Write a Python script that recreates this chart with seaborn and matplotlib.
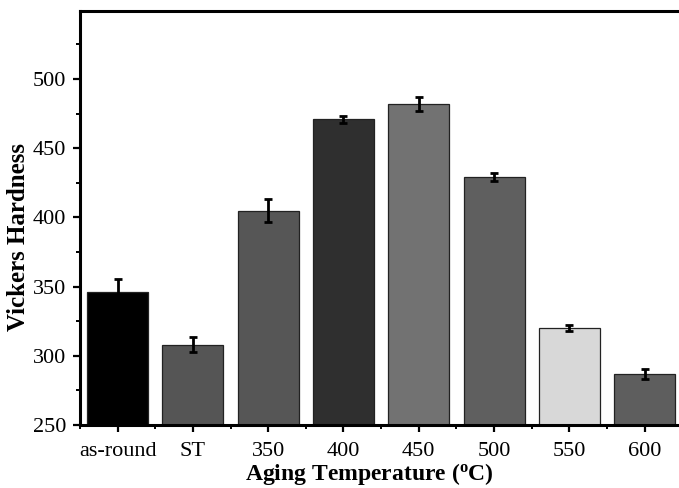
import numpy as np
import pandas as pd
import matplotlib
matplotlib.use('Agg')
import matplotlib.pyplot as plt
from matplotlib.ticker import MultipleLocator, AutoMinorLocator
import seaborn as sns

# 시효 온도별 비커스 경도
conditions = ['as-round', 'ST', '350', '400', '450', '500', '550', '600']
hardness = [346, 308, 405, 471, 482, 429, 320, 287]
hardness_err = [9.5, 5.5, 8.5, 2.5, 5.3, 3.0, 2.4, 3.8]
bar_colors = ['#000000', '#555555', '#565656', '#2f2f2f', '#727272', '#5f5f5f', '#d8d8d8', '#5e5e5e']

df = pd.DataFrame({'cond': conditions, 'hv': hardness, 'err': hardness_err})

sns.set_style('ticks')
plt.rcParams['font.family'] = ['Liberation Serif', 'DejaVu Serif']
plt.rcParams['mathtext.fontset'] = 'custom'
plt.rcParams['mathtext.rm'] = 'Liberation Serif'
plt.rcParams['mathtext.bf'] = 'Liberation Serif:bold'
plt.rcParams['text.color'] = 'black'
plt.rcParams['axes.labelcolor'] = 'black'
plt.rcParams['xtick.color'] = 'black'
plt.rcParams['ytick.color'] = 'black'
plt.rcParams['axes.edgecolor'] = 'black'

fig = plt.figure(figsize=(6.79, 4.88), dpi=100)
ax = fig.add_axes([0.1178, 0.129, 0.887, 0.848])

sns.barplot(data=df, x='cond', y='hv', hue='cond', palette=bar_colors, legend=False,
            width=0.81, edgecolor='#222222', linewidth=0.9, ax=ax)
ax.errorbar(x=np.arange(len(conditions)), y=df['hv'], yerr=df['err'], fmt='none',
            ecolor='black', elinewidth=2, capsize=3, capthick=2)

ax.set_ylim(250, 549)
ax.set_xlim(-0.5, len(conditions) - 0.5)
ax.yaxis.set_major_locator(MultipleLocator(50))
ax.yaxis.set_minor_locator(MultipleLocator(25))
ax.xaxis.set_minor_locator(AutoMinorLocator(2))

for sp in ax.spines.values():
    sp.set_linewidth(2.2)
    sp.set_visible(True)
ax.tick_params(which='major', direction='out', length=5, width=1.6, labelsize=16, pad=5)
ax.tick_params(axis='x', which='major', pad=7)
ax.tick_params(which='minor', direction='out', length=3, width=1.4)
ax.tick_params(top=False, right=False, which='both')

ax.set_xlabel(r'Aging Temperature ($\mathbf{^o}$C)', fontsize=17, fontweight='bold')
ax.set_ylabel('Vickers Hardness', fontsize=18, fontweight='bold')
ax.xaxis.set_label_coords(0.48, -0.087)
ax.yaxis.set_label_coords(-0.083, 0.455)

plt.savefig('out.png', dpi=100)
